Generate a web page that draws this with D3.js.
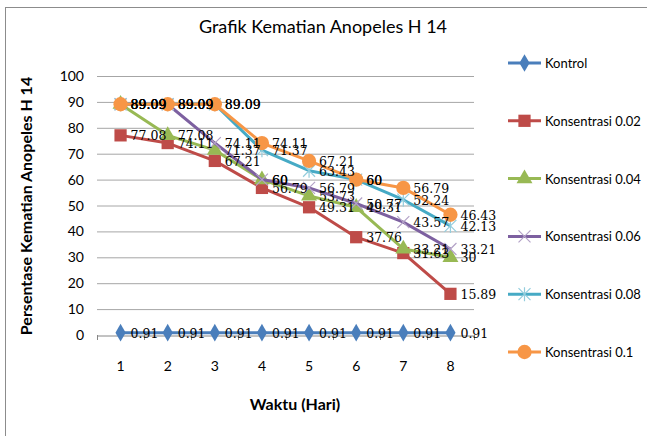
<!DOCTYPE html>
<html><head><meta charset="utf-8">
<script src="https://cdn.jsdelivr.net/npm/d3@7"></script>
<style>body{margin:0;background:#fff}</style>
</head><body>
<svg id="c" width="647" height="436"></svg>
<script>
const days = [1,2,3,4,5,6,7,8];
const seriesNames = ["Kontrol","Konsentrasi 0.02","Konsentrasi 0.04","Konsentrasi 0.06","Konsentrasi 0.08","Konsentrasi 0.1"];
const kontrol = [0.91,0.91,0.91,0.91,0.91,0.91,0.91,0.91];
const k002 = [77.08,74.11,67.21,56.79,49.31,37.76,31.63,15.89];
const k004 = [89.09,77.08,71.37,60,53.73,49.31,33.21,30];
const k006 = [89.09,89.09,74.11,60,56.79,50.77,43.57,33.21];
const k008 = [89.09,89.09,89.09,71.37,63.43,60,52.24,42.13];
const k01 = [89.09,89.09,89.09,74.11,67.21,60,56.79,46.43];
const yTicks = [0,10,20,30,40,50,60,70,80,90,100];
const colors = ["#4A7EBB","#BE4B48","#98B954","#7D60A0","#46AAC5","#F79646"];
const markers = ["diamond","square","triangle","x","star","circle"];
const allSeries = [kontrol,k002,k004,k006,k008,k01];

const svg = d3.select("#c");
svg.append("rect").attr("x",5.5).attr("y",7.5).attr("width",650).attr("height",440)
  .attr("fill","#fff").attr("stroke","#8c8c8c").attr("stroke-width",1);

const x = d3.scaleBand().domain(days).range([97,474]);
const y = d3.scaleLinear().domain([0,100]).range([335,76]);
const cx = d => x(d) + x.bandwidth()/2;

// gridlines
svg.append("g").selectAll("line").data(yTicks.filter(t=>t>0)).join("line")
  .attr("x1",97).attr("x2",474).attr("y1",d=>y(d)+0.5).attr("y2",d=>y(d)+0.5)
  .attr("stroke","#a6a6a6").attr("stroke-width",1);

// y axis tick labels
svg.append("g").selectAll("text").data(yTicks).join("text")
  .attr("x",84).attr("y",d=>y(d)+5).attr("text-anchor","end")
  .attr("font-family","Lato, sans-serif").attr("font-size",14).attr("fill","#000")
  .text(d=>d);

// x axis
const xAxis = d3.axisBottom(x).tickSize(0).tickFormat(d=>d);
const gx = svg.append("g").attr("transform","translate(0,335.5)").call(xAxis);
gx.select(".domain").attr("stroke","#868686");
gx.selectAll("text").attr("font-family","Lato, sans-serif").attr("font-size",14).attr("fill","#000")
  .attr("dy",null).attr("y",35);
// category boundary ticks
svg.append("g").selectAll("line").data(days.concat([9])).join("line")
  .attr("x1",(d,i)=> i<8 ? Math.round(x(d))+0.5 : 474.5).attr("x2",(d,i)=> i<8 ? Math.round(x(d))+0.5 : 474.5)
  .attr("y1",335).attr("y2",340).attr("stroke","#868686");

function markerPath(type){
  switch(type){
    case "diamond": return d3.symbol(d3.symbolDiamond, 90)();
    case "square": return d3.symbol(d3.symbolSquare, 150)();
    case "triangle": return d3.symbol(d3.symbolTriangle, 110)();
    case "circle": return d3.symbol(d3.symbolCircle, 160)();
    case "x": return "M-6,-6L6,6M-6,6L6,-6";
    case "star": return "M-6,-6L6,6M-6,6L6,-6M0,-7L0,7";
  }
}

const line = d3.line().x((d,i)=>cx(days[i])).y(d=>y(d));

allSeries.forEach((vals,si)=>{
  const g = svg.append("g");
  g.append("path").attr("d",line(vals)).attr("fill","none")
    .attr("stroke",colors[si]).attr("stroke-width",3).attr("stroke-linejoin","round");
  const m = markers[si];
  g.selectAll("path.m").data(vals).join("path").attr("class","m")
    .attr("transform",(d,i)=>`translate(${cx(days[i])},${y(d)})`)
    .attr("d",markerPath(m))
    .attr("fill",(m==="x"||m==="star")?"none":colors[si])
    .attr("stroke",(m==="x"||m==="star")? (si===3?"#b3a2c7":"#93cddd") : "none")
    .attr("stroke-width",1.2);
});

// data labels
allSeries.forEach((vals,si)=>{
  svg.append("g").selectAll("text").data(vals).join("text")
    .attr("x",(d,i)=>cx(days[i])+10).attr("y",(d,i)=>y(d)+5)
    .attr("font-family","'DejaVu Serif', serif").attr("font-size",12.5).attr("fill","#000")
    .text(d=>d);
});

// title
svg.append("text").attr("x",323).attr("y",33).attr("text-anchor","middle")
  .attr("font-family","Lato, sans-serif").attr("font-size",18).attr("fill","#000")
  .text("Grafik Kematian Anopeles H 14");

// axis titles
svg.append("text").attr("x",295).attr("y",410).attr("text-anchor","middle")
  .attr("font-family","Lato, sans-serif").attr("font-size",16).attr("font-weight","bold")
  .text("Waktu (Hari)");
svg.append("text").attr("transform","translate(32,206) rotate(-90)").attr("text-anchor","middle")
  .attr("font-family","Lato, sans-serif").attr("font-size",16).attr("font-weight","bold")
  .text("Persentase Kematian Anopeles H 14");

// legend
const leg = svg.append("g");
seriesNames.forEach((name,i)=>{
  const ly = 63 + i*57.8;
  leg.append("line").attr("x1",508).attr("x2",541).attr("y1",ly).attr("y2",ly)
    .attr("stroke",colors[i]).attr("stroke-width",3);
  const m = markers[i];
  leg.append("path").attr("transform",`translate(524.5,${ly})`).attr("d",markerPath(m))
    .attr("fill",(m==="x"||m==="star")?"none":colors[i])
    .attr("stroke",(m==="x"||m==="star")? (i===3?"#b3a2c7":"#93cddd") : "none")
    .attr("stroke-width",1.2);
  leg.append("text").attr("x",545).attr("y",ly+5)
    .attr("font-family","Lato, sans-serif").attr("font-size",13).text(name);
});
</script>
</body></html>
